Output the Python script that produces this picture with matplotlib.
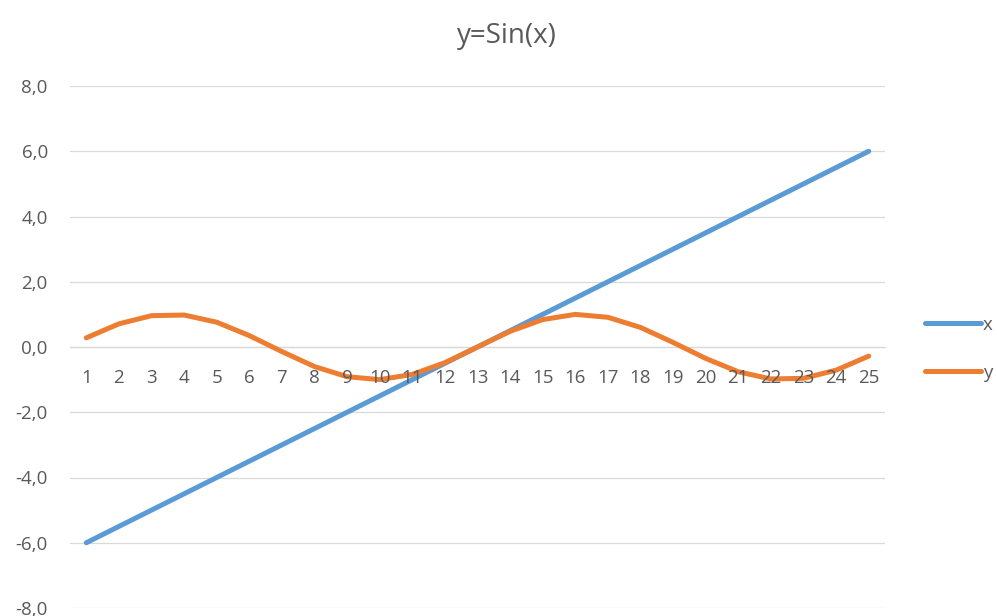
import matplotlib
matplotlib.use("Agg")
from matplotlib import pyplot as plt
from matplotlib.ticker import FuncFormatter

plt.rcParams['font.family'] = ['Open Sans', 'DejaVu Sans']

# row numbers of the worksheet and the two columns
categories = list(range(1, 26))
x_vals = [-6.0, -5.5, -5.0, -4.5, -4.0, -3.5, -3.0, -2.5, -2.0, -1.5, -1.0, -0.5, 0.0,
          0.5, 1.0, 1.5, 2.0, 2.5, 3.0, 3.5, 4.0, 4.5, 5.0, 5.5, 6.0]
y_vals = [0.28, 0.71, 0.96, 0.98, 0.76, 0.35, -0.14, -0.60, -0.91, -1.00, -0.84, -0.48, 0.00,
          0.48, 0.84, 1.00, 0.91, 0.60, 0.14, -0.35, -0.76, -0.98, -0.96, -0.71, -0.28]

text_color = '#595959'
grid_color = '#D9D9D9'

fig = plt.figure(figsize=(9.97, 6.16), dpi=100)
ax = fig.add_axes([70 / 997, 8 / 616, 815 / 997, 522 / 616])

ax.plot(categories, x_vals, color='#5B9BD5', lw=3.6, solid_capstyle='round', label='x')
ax.plot(categories, y_vals, color='#ED7D31', lw=3.6, solid_capstyle='round', label='y')

ax.set_xlim(0.5, 25.5)
ax.set_ylim(-8, 8)
ax.set_yticks(range(-8, 9, 2))
ax.yaxis.set_major_formatter(FuncFormatter(lambda v, p: f"{v:.1f}".replace('.', ',')))
ax.set_xticks(categories)
ax.set_xticklabels([str(c) for c in categories])

ax.grid(axis='y', color=grid_color, lw=0.9)
ax.set_axisbelow(True)
# category labels sit on top of the lines
ax.xaxis.set_zorder(3)
for side in ['top', 'right', 'left']:
    ax.spines[side].set_visible(False)
ax.spines['bottom'].set_position(('data', 0))
ax.spines['bottom'].set_color(grid_color)
ax.spines['bottom'].set_linewidth(0.9)
ax.spines['bottom'].set_zorder(0.5)

ax.tick_params(axis='y', length=0, pad=16, labelsize=13.5, labelcolor=text_color)
ax.tick_params(axis='x', length=0, pad=16, labelsize=13.5, labelcolor=text_color)

fig.text(507 / 997, 1 - 36 / 616, 'y=Sin(x)', ha='center', va='center',
         fontsize=20, color=text_color)

leg = fig.legend(loc='center left', bbox_to_anchor=(925 / 997, 1 - 349 / 616),
                 frameon=False, handlelength=3.0, handletextpad=0.1,
                 labelspacing=1.6, fontsize=13.5, labelcolor=text_color,
                 borderaxespad=0, borderpad=0)

fig.savefig('out.png', dpi=100)
